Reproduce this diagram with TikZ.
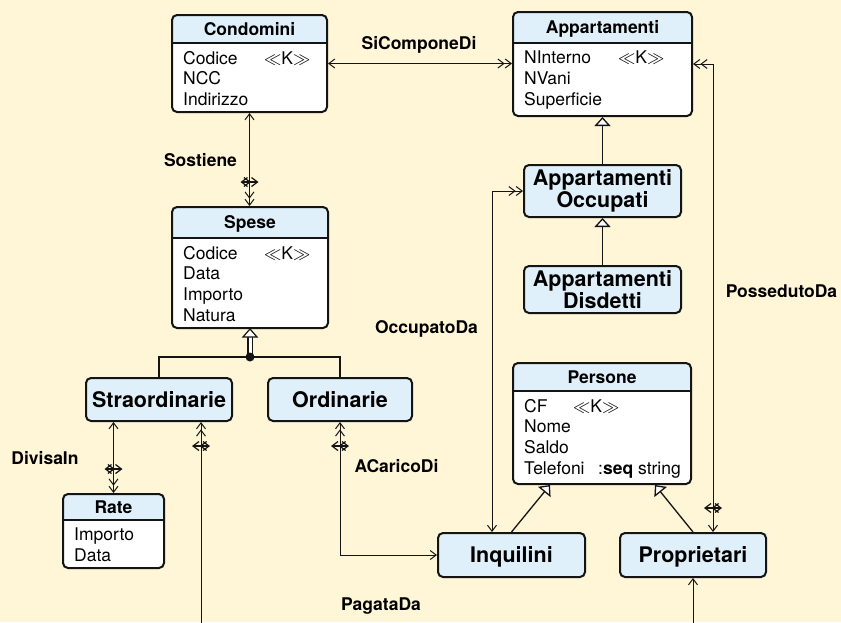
\documentclass[tikz,border=0pt]{standalone}
\usepackage{fontspec}
\setmainfont{TeX Gyre Heros}
\usetikzlibrary{arrows.meta,calc,decorations.markings}

\definecolor{paper}{RGB}{255,245,215}
\definecolor{hdr}{RGB}{224,240,250}
\definecolor{ink}{RGB}{20,20,20}

\newcommand\attrfont{\fontsize{17.5}{20.7}\selectfont}
\newcommand\titlefont{\fontsize{17.5}{20.7}\selectfont\bfseries}
\newcommand\classfont{\fontsize{21.5}{20}\selectfont\bfseries}
\newcommand\keytag{$\ll$K$\gg$}

\tikzset{
  sbarb/.tip={Straight Barb[length=6pt,width=9pt]},
  dbarb/.tip={Straight Barb[length=6pt,width=9pt]Straight Barb[length=6pt,width=9pt]},
  isa/.tip={Triangle[length=9pt,width=16pt,fill=white]},
  conn/.style={draw=ink,line width=1pt},
  gen/.style={draw=ink,line width=1.3pt},
  bar/.style={postaction={decorate,decoration={markings,
      mark=at position -24pt with {\draw[ink,line width=1.2pt] (0pt,-9pt) -- (0pt,9pt);}}}},
  header/.style={path picture={
      \fill[hdr] (path picture bounding box.north west) rectangle ([yshift=-#1]path picture bounding box.north east);
      \draw[ink,line width=2pt] ([yshift=-#1]path picture bounding box.north west) -- ([yshift=-#1]path picture bounding box.north east);}},
  entity/.style={draw=ink,line width=2pt,rounded corners=5pt,fill=white,inner sep=0pt},
  classbox/.style={draw=ink,line width=2pt,rounded corners=5pt,fill=hdr,inner sep=0pt,font=\classfont,align=center},
  oneline/.style={text height=15.4pt,text depth=0pt},
  title/.style={font=\titlefont,inner sep=0pt,text height=12.6pt,text depth=0pt},
  attrs/.style={font=\attrfont,inner sep=0pt,align=left,anchor=north west},
  lbl/.style={font=\titlefont,inner sep=0pt,text height=12.6pt,text depth=0pt},
}

% entity box: name, centre, width, height, header height, title, attribute lines
\newcommand\entitybox[7]{%
  \node[entity,minimum width=#3,minimum height=#4,header=#5] (#1) at #2 {};
  \node[title] (#1-title) at ([yshift=-#5/2-1pt]#1.north) {#6};
  \node[attrs] (#1-attrs) at ([xshift=12pt,yshift=-#5-9pt]#1.north west) {#7};
}

\begin{document}
\begin{tikzpicture}[x=1pt,y=-1pt]
  \path[use as bounding box,fill=paper] (0,0) rectangle (841,622);

  % entities with attributes
  \entitybox{condomini}{(249.5,63.5)}{155pt}{97pt}{28pt}{Condomini}%
    {\makebox[81pt][l]{Codice}\keytag\\NCC\\Indirizzo}
  \entitybox{appartamenti}{(602.5,64)}{179pt}{104pt}{31pt}{Appartamenti}%
    {\makebox[94pt][l]{NInterno}\keytag\\NVani\\Superficie}
  \entitybox{spese}{(250,267.5)}{156pt}{121pt}{31pt}{Spese}%
    {\makebox[81pt][l]{Codice}\keytag\\Data\\Importo\\Natura}
  \entitybox{rate}{(113.5,531)}{101pt}{74pt}{26pt}{Rate}%
    {Importo\\Data}
  \entitybox{persone}{(602,423.5)}{178pt}{121pt}{28pt}{Persone}%
    {\makebox[49pt][l]{CF}\keytag\\Nome\\Saldo\\\makebox[74pt][l]{Telefoni}:\textbf{seq} string}

  % subclasses
  \node[classbox,minimum width=157pt,minimum height=52pt] (occupati) at (602.5,191) {Appartamenti\\Occupati};
  \node[classbox,minimum width=157pt,minimum height=47pt] (disdetti) at (602.5,289.5) {Appartamenti\\Disdetti};
  \node[classbox,oneline,minimum width=146pt,minimum height=43pt] (straord) at (159,399.5) {Straordinarie};
  \node[classbox,oneline,minimum width=144pt,minimum height=43pt] (ordinarie) at (340,399.5) {Ordinarie};
  \node[classbox,oneline,minimum width=147pt,minimum height=44pt] (inquilini) at (511.5,555) {Inquilini};
  \node[classbox,oneline,minimum width=146pt,minimum height=44pt] (proprietari) at (693,555) {Proprietari};

  % is-a hierarchies
  \draw[gen,-{isa}] (occupati.north) -- (appartamenti.south);
  \draw[gen,-{isa}] (disdetti.north) -- (occupati.south);
  \draw[gen,-{isa}] (inquilini.north) -- ($(persone.south)+(-52,0)$);
  \draw[gen,-{isa}] (proprietari.north) -- ($(persone.south)+(53,0)$);

  % partition of Spese
  \coordinate (gdot) at ($(spese.south)+(0,28)$);
  \draw[gen] (straord.north) |- (gdot) -| (ordinarie.north);
  \draw[ink,line width=1.1pt,double=white,double distance=3pt] (gdot) -- ($(spese.south)+(0,7)$);
  \draw[ink,line width=1.2pt,fill=white] (spese.south) -- ++(7,8) -- ++(-14,0) -- cycle;
  \fill[ink] (gdot) circle (4.5pt);

  % associations
  \draw[conn,{sbarb}-{dbarb}] (condomini.east) -- (condomini.east -| appartamenti.west);
  \draw[conn,bar,{sbarb}-{dbarb}] (condomini.south) -- (condomini.south |- spese.north);
  \draw[conn,bar,{sbarb}-{dbarb}] (rate.north |- straord.south) -- (rate.north);
  \begin{scope}
    \clip (0,0) rectangle (841,622);
    \coordinate (payfoot) at ($(straord.south west)+(116,240)$);
    \draw[conn,bar,{sbarb}-{dbarb}] (proprietari.south) |- (payfoot) -- (payfoot |- straord.south);
  \end{scope}
  \draw[conn,bar,{sbarb}-{dbarb}] (inquilini.west) -| (ordinarie.south);
  \draw[conn,{sbarb}-{dbarb}] ($(inquilini.north west)+(55,0)$) |- (occupati.west);
  \coordinate (ownx) at ($(appartamenti.east)+(20,0)$);
  \draw[conn,bar,{dbarb}-{sbarb}] (appartamenti.east) -- (ownx) -- (ownx |- proprietari.north);

  % association names
  \node[lbl] (l-sicompone) at (419,43) {SiComponeDi};
  \node[lbl] (l-sostiene) at (200.5,160) {Sostiene};
  \node[lbl] (l-divisa) at (45,458) {DivisaIn};
  \node[lbl] (l-pagata) at (381,604) {PagataDa};
  \node[lbl] (l-acarico) at (396.5,466) {ACaricoDi};
  \node[lbl] (l-occupato) at (426.5,327) {OccupatoDa};
  \node[lbl] (l-posseduto) at (781.5,291) {PossedutoDa};
\end{tikzpicture}
\end{document}
